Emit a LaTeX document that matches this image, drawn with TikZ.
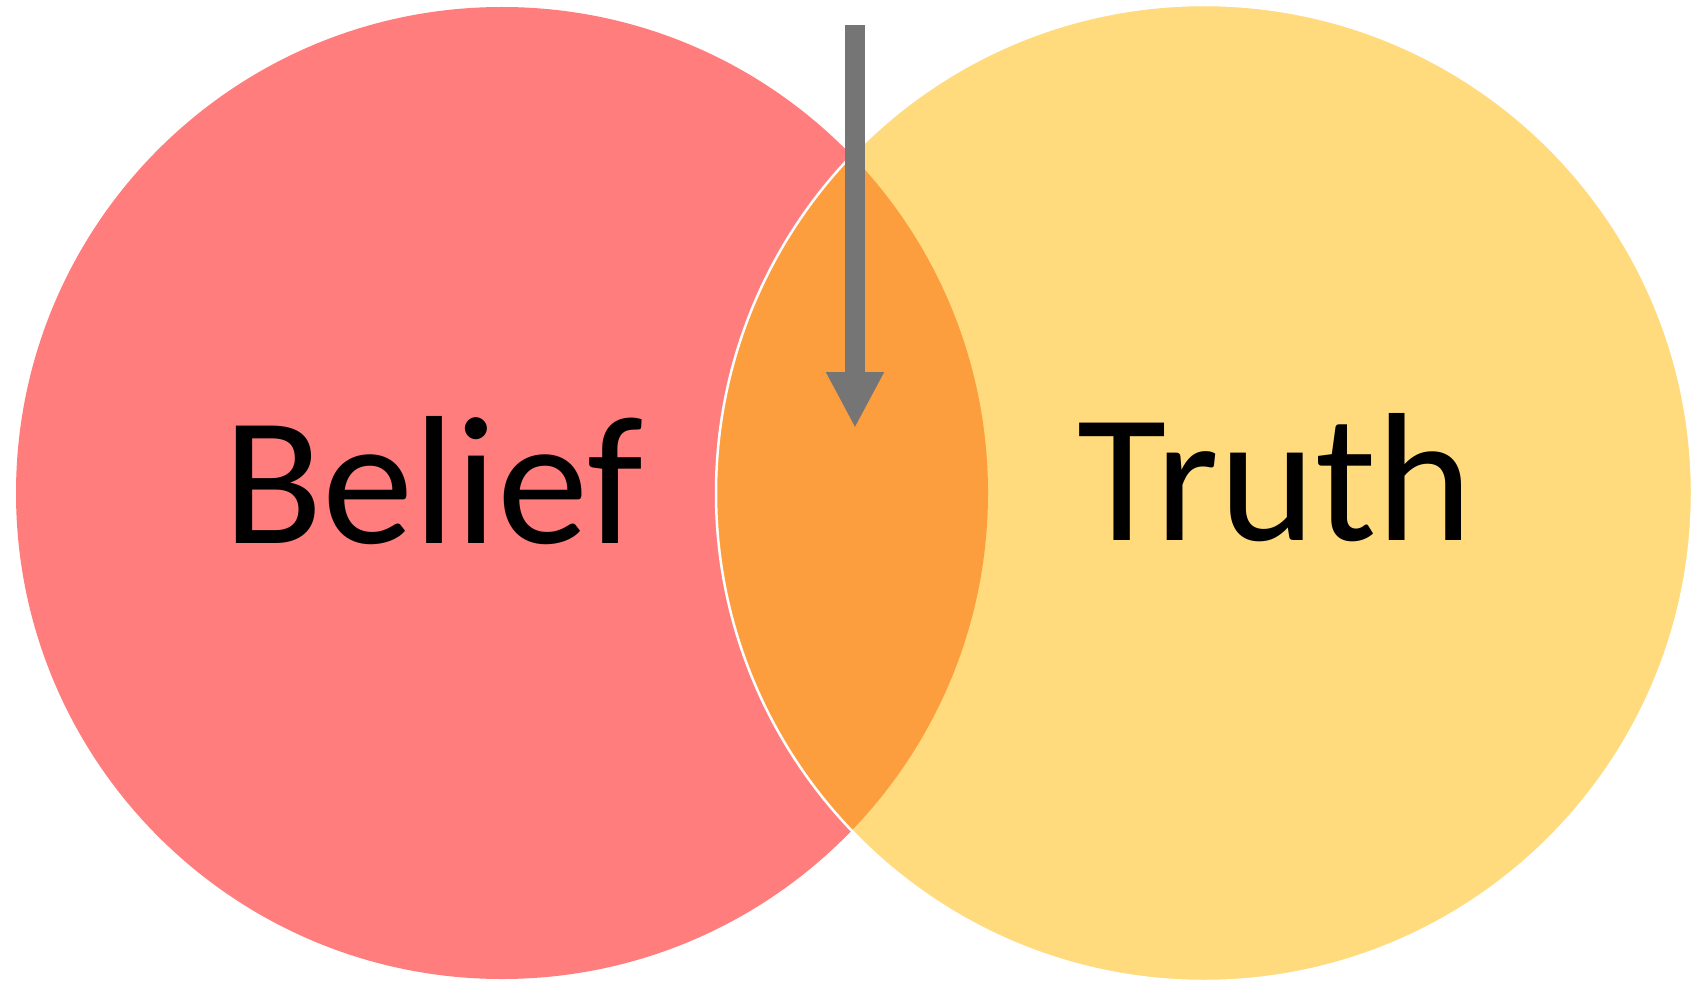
\documentclass[tikz,border=0pt]{standalone}
\usepackage{fontspec}
\setmainfont{Carlito}
\usetikzlibrary{arrows.meta}
\definecolor{beliefred}{HTML}{FF7D7D}
\definecolor{truthyellow}{HTML}{FFDB7D}
\definecolor{lensorange}{HTML}{FD9E3E}
\definecolor{arrowgray}{HTML}{767576}
\tikzset{
  label text/.style={font=\fontsize{183}{220}\selectfont, text=black, anchor=base, inner sep=0pt},
  pointer/.style={draw=arrowgray, line width=20pt, -{Triangle[length=56pt,width=54pt]}}
}
\begin{document}
\begin{tikzpicture}[x=1pt,y=-1pt]
\useasboundingbox (0,0) rectangle (1700,987);
\fill[white] (0,0) rectangle (1700,987);
\coordinate (cl) at (502,493);
\coordinate (cr) at (1204,493);
\fill[beliefred] (cl) circle[radius=486];
\fill[truthyellow] (cr) circle[radius=488];
\begin{scope}
  \clip (cl) circle[radius=486];
  \fill[lensorange] (cr) circle[radius=488];
\end{scope}
\draw[white, line width=2.5pt] (cr) circle[radius=488];
\node[label text] (belief) at (433,543) {Belief};
\node[label text] (truth) at (1275,540) {Truth};
\coordinate (top) at (855,25);
\coordinate (tip) at (855,428);
\draw[pointer] (top) -- (tip);
\end{tikzpicture}
\end{document}
